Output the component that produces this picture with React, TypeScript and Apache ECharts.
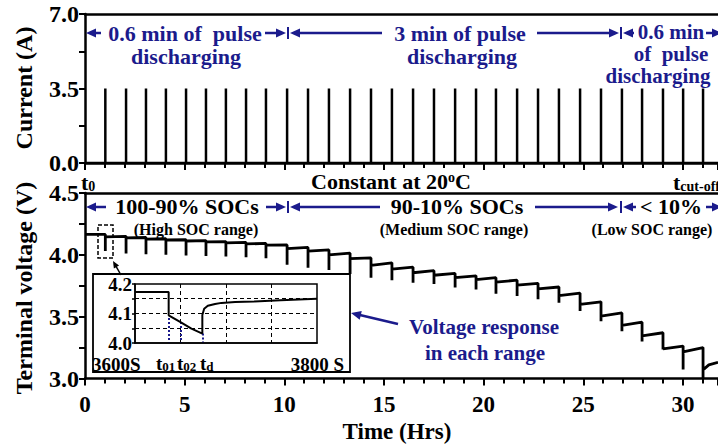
import React, { useEffect, useRef } from "react";
import * as echarts from "echarts";

const SERIF = '"Liberation Serif", "Times New Roman", serif';
const NAVY = "#1b1b8c";
const INK = "#000";

// Pulse schedule: start of each discharge pulse (hours) and its amplitude (A)
const pulseHours = [
  1.02, 2.06, 3.06, 4.06, 5.07, 6.07, 7.07, 8.08, 9.08, 10.14,
  11.19, 12.24, 13.3, 14.35, 15.4, 16.46, 17.51, 18.57, 19.62, 20.62,
  21.68, 22.73, 23.78, 24.84, 25.89, 26.94, 27.95, 29.0, 30.01, 31.01,
];
const pulseAmps = [
  3.5, 3.5, 3.5, 3.5, 3.5, 3.5, 3.5, 3.5, 3.5, 3.5,
  3.5, 3.5, 3.5, 3.5, 3.5, 3.5, 3.5, 3.5, 3.5, 3.5,
  3.5, 3.5, 3.5, 3.5, 3.5, 3.5, 3.5, 3.5, 3.5, 3.5,
];

// Terminal voltage around each pulse (V): rested level, end of pulse, after recovery
const restVolts = [
  4.165, 4.15, 4.14, 4.13, 4.122, 4.115, 4.107, 4.1, 4.092, 4.08,
  4.06, 4.04, 4.013, 3.975, 3.935, 3.9, 3.872, 3.85, 3.83, 3.815,
  3.795, 3.77, 3.74, 3.69, 3.62, 3.53, 3.455, 3.37, 3.262, 3.25,
];
const lowVolts = [
  4.03, 4.01, 4.005, 4.0, 3.995, 3.99, 3.987, 3.98, 3.973, 3.92,
  3.895, 3.878, 3.845, 3.815, 3.795, 3.775, 3.765, 3.735, 3.72, 3.685,
  3.668, 3.64, 3.612, 3.545, 3.462, 3.382, 3.3, 3.234, 3.073, 3.0,
];
const recoveredVolts = [
  4.145, 4.137, 4.127, 4.12, 4.112, 4.105, 4.097, 4.088, 4.078, 4.05,
  4.03, 4.0, 3.97, 3.915, 3.885, 3.855, 3.835, 3.815, 3.8, 3.78,
  3.755, 3.725, 3.67, 3.6, 3.505, 3.43, 3.345, 3.24, 3.215, 3.07,
];
const startVolt = 4.165;
const tailHours = [31.3, 31.76];
const tailVolts = [3.11, 3.13];

// First pulse seen at second resolution
const insetSeconds = [3600, 3637, 3637, 3650, 3662, 3674, 3674, 3676, 3680, 3688, 3695, 3710, 3731, 3760, 3800];
const insetVolts = [4.173, 4.173, 4.094, 4.071, 4.049, 4.032, 4.095, 4.116, 4.126, 4.132, 4.136, 4.139, 4.141, 4.145, 4.15];
const insetMarkSeconds = [3637, 3650, 3674];
const insetMarkVolts = [4.085, 4.071, 4.032];

const HOUR_MAX = 31.76;

const currentData: number[][] = [];
pulseHours.forEach((t, i) => {
  currentData.push([t, 0], [t, pulseAmps[i]], [t, 0]);
});
currentData.unshift([0, 0]);
currentData.push([HOUR_MAX, 0]);

const voltageData: number[][] = [[0, startVolt]];
pulseHours.forEach((t, i) => {
  voltageData.push([t, restVolts[i]], [t, lowVolts[i]], [t, recoveredVolts[i]]);
});
tailHours.forEach((t, i) => voltageData.push([t, tailVolts[i]]));

const insetData = insetSeconds.map((s, i) => [s, insetVolts[i]]);

const font = (size: number) => `bold ${size}px ${SERIF}`;

function label(x: number, y: number, text: string, size: number, fill = INK, align = "center", extra: any = {}) {
  return {
    type: "text",
    x,
    y,
    z: 20,
    ...extra,
    style: { text, font: font(size), fill, align, verticalAlign: "middle" },
  };
}

function richLabel(x: number, y: number, text: string, size: number, small: number, align = "left") {
  const part = (fs: number, lh: number, va: string) => ({
    fontSize: fs,
    fontFamily: SERIF,
    fontWeight: "bold",
    fill: INK,
    lineHeight: lh,
    verticalAlign: va,
  });
  return {
    type: "text",
    x,
    y,
    z: 20,
    style: {
      text,
      align,
      verticalAlign: "middle",
      rich: {
        b: part(size, size, "bottom"),
        s: part(small, small * 0.7, "bottom"),
        u: part(small, small * 0.7, "top"),
      },
    },
  };
}

function arrow(fx: number, fy: number, tx: number, ty: number, color: string, width = 2.5, len = 10, half = 4.5) {
  const dx = tx - fx;
  const dy = ty - fy;
  const d = Math.hypot(dx, dy);
  const ux = dx / d;
  const uy = dy / d;
  const bx = tx - ux * len;
  const by = ty - uy * len;
  return [
    {
      type: "line",
      z: 20,
      shape: { x1: fx, y1: fy, x2: bx + ux * 2, y2: by + uy * 2 },
      style: { stroke: color, lineWidth: width },
    },
    {
      type: "polygon",
      z: 20,
      shape: {
        points: [
          [tx, ty],
          [bx - uy * half, by + ux * half],
          [bx + uy * half, by - ux * half],
        ],
      },
      style: { fill: color },
    },
  ];
}

function bar(x: number, y: number) {
  return {
    type: "line",
    z: 20,
    shape: { x1: x, y1: y - 6, x2: x, y2: y + 6 },
    style: { stroke: NAVY, lineWidth: 2 },
  };
}

const axisText = { fontFamily: SERIF, fontWeight: "bold", color: INK };

function mainXAxis(gridIndex: number, showLabels: boolean) {
  return {
    type: "value",
    gridIndex,
    min: 0,
    max: HOUR_MAX,
    interval: 5,
    position: "bottom",
    axisLine: { onZero: false, lineStyle: { color: INK, width: 2.5 } },
    axisTick: { show: true, length: 7, lineStyle: { color: INK, width: 2 } },
    minorTick: { show: true, splitNumber: 5, length: 5, lineStyle: { color: INK, width: 2 } },
    axisLabel: { show: showLabels, ...axisText, fontSize: 23, margin: 14, showMaxLabel: false },
    splitLine: { show: false },
  };
}

function borderXAxis(gridIndex: number) {
  return {
    type: "value",
    gridIndex,
    min: 0,
    max: HOUR_MAX,
    position: "top",
    axisLine: { onZero: false, lineStyle: { color: INK, width: 2.5 } },
    axisTick: { show: false },
    axisLabel: { show: false },
    splitLine: { show: false },
  };
}

function mainYAxis(gridIndex: number, min: number, max: number, interval: number) {
  return {
    type: "value",
    gridIndex,
    min,
    max,
    interval,
    axisLine: { show: true, onZero: false, lineStyle: { color: INK, width: 2.5 } },
    axisTick: { show: true, length: 6, lineStyle: { color: INK, width: 2 } },
    minorTick: { show: true, splitNumber: 2, length: 6, lineStyle: { color: INK, width: 2 } },
    axisLabel: { ...axisText, fontSize: 24, margin: 6, formatter: (v: number) => v.toFixed(1) },
    splitLine: { show: false },
  };
}

const dashed = { color: INK, width: 1, type: [4, 3] };

const graphicElements: any[] = [
  // axis titles
  label(24, 88, "Current (A)", 24, INK, "center", { rotation: Math.PI / 2 }),
  label(24, 288, "Terminal voltage (V)", 24, INK, "center", { rotation: Math.PI / 2 }),
  label(397, 431, "Time (Hrs)", 23),

  // current panel: pulse duration bands
  ...arrow(101, 33, 86, 33, NAVY),
  label(185, 33, "0.6 min of  pulse", 22, NAVY),
  label(186, 56, "discharging", 22, NAVY),
  ...arrow(265, 33, 286, 33, NAVY),
  bar(288, 33),
  ...arrow(382, 33, 290, 33, NAVY),
  label(460, 33, "3 min of pulse", 22, NAVY),
  label(462, 56, "discharging", 22, NAVY),
  ...arrow(537, 33, 619, 33, NAVY),
  bar(621, 33),
  ...arrow(634, 33, 623, 33, NAVY),
  label(671, 32, "0.6 min", 21, NAVY),
  label(671, 54, "of  pulse", 21, NAVY),
  label(658, 76, "discharging", 21, NAVY),
  ...arrow(706, 33, 722, 33, NAVY),

  // between the panels
  richLabel(81, 182, "{b|t}{s|0}", 22, 14),
  richLabel(391, 181, "{b|Constant at 20}{u|o}{b|C}", 22, 14, "center"),
  richLabel(673, 182, "{b|t}{s|cut-off}", 22, 14),

  // voltage panel: SOC bands
  ...arrow(106, 207, 86, 207, NAVY),
  label(187, 206, "100-90% SOCs", 22),
  label(196, 229, "(High SOC range)", 16),
  ...arrow(266, 207, 286, 207, NAVY),
  bar(288, 207),
  ...arrow(380, 207, 290, 207, NAVY),
  label(457, 206, "90-10% SOCs", 22),
  label(454, 229, "(Medium SOC range)", 16),
  ...arrow(535, 207, 618, 207, NAVY),
  bar(621, 207),
  ...arrow(636, 207, 623, 207, NAVY),
  label(671, 206, "< 10%", 22),
  label(652, 229, "(Low SOC range)", 16),
  ...arrow(706, 207, 722, 207, NAVY),

  // zoom marker on the first pulse
  {
    type: "rect",
    z: 20,
    shape: { x: 98, y: 225, width: 15, height: 33 },
    style: { fill: "none", stroke: INK, lineWidth: 1.5, lineDash: [4, 2] },
  },
  ...arrow(121, 275, 113, 261, INK, 1.5, 7, 3),

  // inset frame and its labels
  {
    type: "rect",
    z: 1,
    shape: { x: 93, y: 274, width: 257, height: 98 },
    style: { fill: "none", stroke: INK, lineWidth: 1.8 },
  },
  label(92, 364, "3600S", 19, INK, "left"),
  richLabel(156, 363, "{b|t}{s|01}", 19, 13),
  richLabel(177, 363, "{b|t}{s|02}", 19, 13),
  richLabel(200, 363, "{b|t}{s|d}", 19, 13),
  label(344, 364, "3800 S", 19, INK, "right"),

  // callout
  ...arrow(398, 324, 351, 313, NAVY, 2.5, 10, 4.5),
  label(484, 327, "Voltage response", 21, NAVY),
  label(485, 353, "in each range", 21, NAVY),
];

const option: any = {
  animation: false,
  backgroundColor: "#fff",
  grid: [
    { left: 85, top: 14, right: 0, height: 149 },
    { left: 85, top: 193, right: 0, height: 185.5 },
    {
      left: 135,
      top: 284,
      width: 182,
      height: 59,
      show: true,
      borderColor: INK,
      borderWidth: 1.5,
      backgroundColor: "transparent",
      z: 5,
    },
  ],
  xAxis: [
    mainXAxis(0, false),
    borderXAxis(0),
    mainXAxis(1, true),
    borderXAxis(1),
    {
      type: "value",
      gridIndex: 2,
      min: 3600,
      max: 3800,
      interval: 50,
      z: 5,
      axisLine: { onZero: false, lineStyle: { color: INK, width: 1.5 } },
      axisTick: { show: false },
      axisLabel: { show: false },
      splitLine: { show: true, showMinLine: false, showMaxLine: false, lineStyle: dashed },
    },
  ],
  yAxis: [
    mainYAxis(0, 0, 7, 3.5),
    mainYAxis(1, 3, 4.5, 0.5),
    {
      type: "value",
      gridIndex: 2,
      min: 4.0,
      max: 4.2,
      interval: 0.05,
      z: 5,
      axisLine: { show: true, onZero: false, lineStyle: { color: INK, width: 1.5 } },
      axisTick: { show: true, length: 3, lineStyle: { color: INK, width: 1.5 } },
      axisLabel: {
        ...axisText,
        fontSize: 19,
        margin: 3,
        lineHeight: 16,
        formatter: (v: number) => (Math.round(v * 100) % 10 === 0 ? v.toFixed(1) : ""),
      },
      splitLine: { show: true, showMinLine: false, showMaxLine: false, lineStyle: dashed },
    },
  ],
  series: [
    {
      name: "Current",
      type: "line",
      xAxisIndex: 0,
      yAxisIndex: 0,
      data: currentData,
      symbol: "none",
      lineStyle: { color: INK, width: 2.5 },
      z: 3,
    },
    {
      name: "Terminal voltage",
      type: "line",
      xAxisIndex: 2,
      yAxisIndex: 1,
      data: voltageData,
      symbol: "none",
      lineStyle: { color: INK, width: 2.8 },
      z: 3,
    },
    {
      name: "First pulse",
      type: "line",
      xAxisIndex: 4,
      yAxisIndex: 2,
      data: insetData,
      symbol: "none",
      lineStyle: { color: INK, width: 2 },
      z: 6,
      markLine: {
        silent: true,
        symbol: ["none", "none"],
        label: { show: false },
        lineStyle: { color: NAVY, type: "dotted", width: 2 },
        data: insetMarkSeconds.map((s, i) => [
          { coord: [s, insetMarkVolts[i]] },
          { coord: [s, 4.0] },
        ]),
      },
    },
  ],
  graphic: { elements: graphicElements },
};

export default function App() {
  const ref = useRef<HTMLDivElement>(null);
  useEffect(() => {
    document.body.style.margin = "0";
    if (!ref.current) return;
    const chart = echarts.init(ref.current, undefined, { renderer: "svg" });
    chart.setOption(option);
    return () => chart.dispose();
  }, []);
  return <div ref={ref} style={{ width: 718, height: 444 }} />;
}
